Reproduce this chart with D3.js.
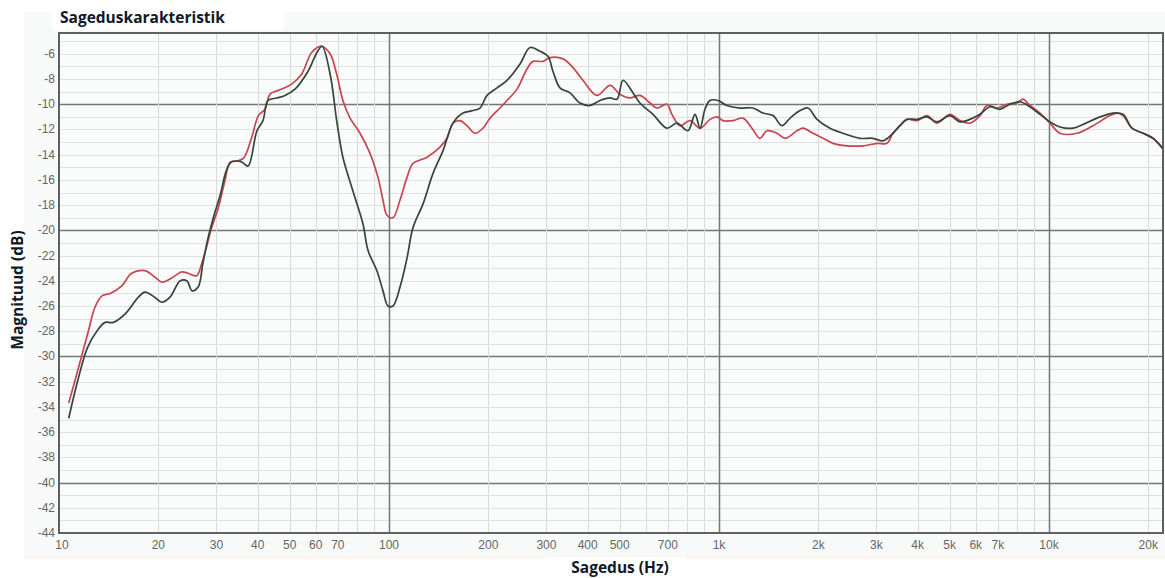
<!DOCTYPE html>
<html>
<head>
<meta charset="utf-8">
<script src="https://cdn.jsdelivr.net/npm/d3@7"></script>
<style>
  html, body { margin: 0; padding: 0; background: #ffffff; }
  svg { display: block; }
</style>
</head>
<body>
<svg id="chart" width="1165" height="578"></svg>
<script>
// ---- Data ----
const redFreq = [10.7, 11.4, 12.3, 12.85, 13.5, 14.3, 15.5, 16.6, 18.2, 19.5, 20.5, 21.9, 23.5, 24.6, 26.1, 27.1, 28.0, 29.0, 30.4, 31.8, 33.0, 34.6, 36.2, 38.4, 40.2, 42.1, 43.6, 46.2, 50.7, 54.4, 58.3, 62.5,
  66.3, 69.4, 72.5, 76.2, 81.7, 87.6, 92.6, 95.9, 98.6, 102.8, 108, 113.4, 118.2, 130.4, 142.7, 149.9, 156.3, 164.1, 172.4, 182.3, 192.7, 202.4, 217, 227.9, 244.3, 261.9, 273.2, 292.9, 307.6, 336.8, 361.2, 387.1, 426.9, 467.5,
  501, 537, 576, 618, 649, 696, 720, 762, 817, 876, 939, 986, 1028, 1103, 1183, 1259, 1331, 1398, 1499, 1585, 1724, 1797, 1927, 2067, 2216, 2443, 2732, 3012, 3229, 3368, 3536,
  3713, 3981, 4269, 4577, 5012, 5375, 5762, 6179, 6488, 6956, 7459, 7998, 8340, 8758, 9391, 10070, 10800, 12160, 13600, 15300, 16070, 16760, 17850, 19270, 20670, 22100];
const redDb = [-33.7, -31.1, -27.9, -26.1, -25.2, -25.0, -24.4, -23.4, -23.2, -23.7, -24.1, -23.8, -23.3, -23.4, -23.6, -22.6, -21.3, -19.8, -18.2, -16.1, -14.6, -14.5, -14.3, -12.6, -10.9, -10.4, -9.2, -8.9, -8.4, -7.6, -5.9, -5.4,
  -6.0, -7.6, -9.7, -11.1, -12.3, -13.9, -15.8, -17.6, -18.8, -19.0, -17.6, -15.8, -14.7, -14.2, -13.4, -12.7, -11.5, -11.3, -11.7, -12.3, -11.9, -11.1, -10.3, -9.7, -8.8, -7.2, -6.6, -6.6, -6.3, -6.4, -7.1, -8.1, -9.3, -8.5,
  -9.2, -9.5, -9.3, -9.9, -10.3, -10.0, -10.8, -11.7, -11.3, -11.9, -11.2, -11.0, -11.3, -11.3, -11.1, -11.9, -12.7, -12.1, -12.3, -12.7, -12.1, -11.9, -12.3, -12.7, -13.1, -13.3, -13.3, -13.1, -13.1, -12.3, -11.7,
  -11.2, -11.3, -10.9, -11.5, -10.8, -11.3, -11.5, -10.9, -10.1, -10.3, -10.0, -9.9, -9.6, -10.1, -10.7, -11.5, -12.3, -12.3, -11.7, -10.9, -10.7, -10.9, -11.9, -12.3, -12.7, -13.5];

const greenFreq = [10.7, 11.4, 12.2, 13.1, 13.8, 14.6, 15.9, 17.4, 18.2, 19.5, 20.5, 21.7, 23.3, 24.4, 25.3, 26.4, 27.3, 28.3, 29.5, 30.8, 32.1, 33.2, 34.6, 35.9, 37.4, 39.8, 41.5, 43.0, 45.8, 48.4, 51.9, 56.8, 60.5, 62.7,
  66.3, 69.6, 72.5, 77.8, 83.4, 86.4, 91.9, 95.9, 99.3, 102.8, 108, 113.4, 118.2, 126.8, 135.9, 145.7, 156.3, 167.6, 179.8, 188.7, 198.2, 212.5, 227.9, 249.5, 267.6, 286.9, 303.3, 314.1, 329.8, 353.6, 379.1, 406.5, 435.9, 467.5,
  491, 512, 549, 576, 631, 696, 746, 805, 846, 876, 907, 939, 993, 1057, 1158, 1268, 1359, 1458, 1552, 1642, 1760, 1861, 1982, 2170, 2376, 2675, 2929, 3141, 3368, 3536,
  3713, 3981, 4269, 4577, 5012, 5375, 5762, 6179, 6625, 7104, 7618, 8168, 8758, 9391, 10070, 10800, 11820, 12680, 13980, 15630, 16760, 17850, 19270, 20670, 22100];
const greenDb = [-34.9, -31.9, -29.3, -27.9, -27.3, -27.3, -26.6, -25.3, -24.9, -25.3, -25.7, -25.3, -24.0, -24.0, -24.8, -24.5, -22.6, -20.6, -18.8, -17.2, -15.3, -14.6, -14.5, -14.6, -14.9, -12.1, -11.3, -9.7, -9.5, -9.3, -8.8, -7.4, -5.9, -5.4,
  -7.6, -11.5, -14.2, -16.9, -19.5, -21.6, -23.2, -24.8, -26.0, -26.0, -24.5, -22.2, -19.8, -17.9, -15.5, -13.7, -11.5, -10.7, -10.5, -10.3, -9.3, -8.7, -8.1, -6.8, -5.5, -5.8, -6.2, -7.4, -8.7, -9.1, -9.9, -10.1, -9.7, -9.5,
  -9.6, -8.1, -9.1, -9.9, -10.8, -11.9, -11.5, -12.1, -10.8, -11.9, -10.4, -9.7, -9.7, -10.1, -10.3, -10.3, -10.7, -10.9, -11.7, -11.1, -10.5, -10.3, -11.2, -11.9, -12.3, -12.7, -12.7, -12.9, -12.3, -11.7,
  -11.2, -11.2, -11.0, -11.4, -10.9, -11.4, -11.2, -10.8, -10.2, -10.4, -10.0, -9.8, -10.2, -10.8, -11.4, -11.8, -11.9, -11.6, -11.1, -10.7, -10.8, -11.9, -12.3, -12.7, -13.5];

const yTickLabels = [-6, -8, -10, -12, -14, -16, -18, -20, -22, -24, -26, -28, -30, -32, -34, -36, -38, -40, -42, -44];
const xTickValues = [10, 20, 30, 40, 50, 60, 70, 100, 200, 300, 400, 500, 700, 1000, 2000, 3000, 4000, 5000, 6000, 7000, 10000, 20000];
const xTickLabels = ["10", "20", "30", "40", "50", "60", "70", "100", "200", "300", "400", "500", "700", "1k", "2k", "3k", "4k", "5k", "6k", "7k", "10k", "20k"];
const titleText = "Sageduskarakteristik";
const xTitle = "Sagedus (Hz)";
const yTitle = "Magnituud (dB)";

// ---- Layout ----
const svg = d3.select("#chart");
const plot = { left: 59, right: 1163, top: 33, bottom: 533 };
const x = d3.scaleLog().domain([10, 22160]).range([plot.left, plot.right]);
const y = d3.scaleLinear().domain([-44, -4.35]).range([plot.bottom, plot.top]);

// panel background
svg.append("rect").attr("x", 24).attr("y", 12).attr("width", 1141).attr("height", 545)
  .attr("fill", "#f8f9f9");
svg.append("rect").attr("x", 24).attr("y", 555).attr("width", 1141).attr("height", 4)
  .attr("fill", "#fcf6f1");
// white boxes under titles
svg.append("rect").attr("x", 52).attr("y", 0).attr("width", 232).attr("height", 30).attr("fill", "#ffffff");
svg.append("rect").attr("x", 545).attr("y", 557).attr("width", 140).attr("height", 21).attr("fill", "#ffffff");

// plot background
svg.append("rect").attr("x", plot.left).attr("y", plot.top)
  .attr("width", plot.right - plot.left).attr("height", plot.bottom - plot.top)
  .attr("fill", "#fafbfb");

const grid = svg.append("g");
// horizontal grid every 1 dB
const hVals = d3.range(-43, -4);
grid.selectAll("line.h").data(hVals).join("line")
  .attr("x1", plot.left).attr("x2", plot.right)
  .attr("y1", d => Math.round(y(d)) + 0.5).attr("y2", d => Math.round(y(d)) + 0.5)
  .attr("stroke", d => d % 10 === 0 ? "#767676" : "#dfe1e1")
  .attr("stroke-width", d => d % 10 === 0 ? 1.5 : 1);

// vertical grid
const vVals = [];
[10, 100, 1000, 10000].forEach(dec => { for (let m = 1; m <= 9; m++) { const v = dec * m; if (v > 10 && v < 22000) vVals.push(v); } });
grid.selectAll("line.v").data(vVals).join("line")
  .attr("y1", plot.top).attr("y2", plot.bottom)
  .attr("x1", d => Math.round(x(d)) + 0.5).attr("x2", d => Math.round(x(d)) + 0.5)
  .attr("stroke", d => [100, 1000, 10000].includes(d) ? "#767676" : "#d9dbdb")
  .attr("stroke-width", d => [100, 1000, 10000].includes(d) ? 1.5 : 1);

// frame
svg.append("rect").attr("x", plot.left).attr("y", plot.top)
  .attr("width", plot.right - plot.left).attr("height", plot.bottom - plot.top)
  .attr("fill", "none").attr("stroke", "#606060").attr("stroke-width", 2);

// tick labels
svg.append("g").selectAll("text").data(yTickLabels).join("text")
  .attr("x", 55).attr("y", d => y(d) + 4)
  .attr("text-anchor", "end")
  .attr("font-family", "Liberation Sans, Arial, sans-serif").attr("font-size", 12)
  .attr("fill", "#666666")
  .text(d => d);

svg.append("g").selectAll("text").data(xTickValues).join("text")
  .attr("x", (d, i) => x(d) + (i === 0 ? 3 : 0)).attr("y", 549)
  .attr("text-anchor", "middle")
  .attr("font-family", "Liberation Sans, Arial, sans-serif").attr("font-size", 12)
  .attr("fill", "#666666")
  .text((d, i) => xTickLabels[i]);

// curves
const line = d3.line().x(d => x(d[0])).y(d => y(d[1])).curve(d3.curveCatmullRom.alpha(0.5));
const redPts = redFreq.map((f, i) => [f, redDb[i]]);
const greenPts = greenFreq.map((f, i) => [f, greenDb[i]]);
svg.append("path").datum(redPts).attr("d", line)
  .attr("fill", "none").attr("stroke", "#c8444f").attr("stroke-width", 1.7).attr("stroke-linejoin", "round");
svg.append("path").datum(greenPts).attr("d", line)
  .attr("fill", "none").attr("stroke", "#33463a").attr("stroke-width", 1.7).attr("stroke-linejoin", "round");

// titles
svg.append("text").attr("x", 60).attr("y", 23)
  .attr("font-family", "Open Sans, sans-serif").attr("font-weight", "bold").attr("font-size", 15.5)
  .attr("fill", "#111827").text(titleText);
svg.append("text").attr("x", 620).attr("y", 573).attr("text-anchor", "middle")
  .attr("font-family", "Open Sans, sans-serif").attr("font-weight", "bold").attr("font-size", 15.5)
  .attr("fill", "#111827").text(xTitle);
svg.append("text").attr("transform", "translate(23,290) rotate(-90)").attr("text-anchor", "middle")
  .attr("font-family", "Open Sans, sans-serif").attr("font-weight", "bold").attr("font-size", 15.5)
  .attr("fill", "#111827").text(yTitle);
</script>
</body>
</html>
